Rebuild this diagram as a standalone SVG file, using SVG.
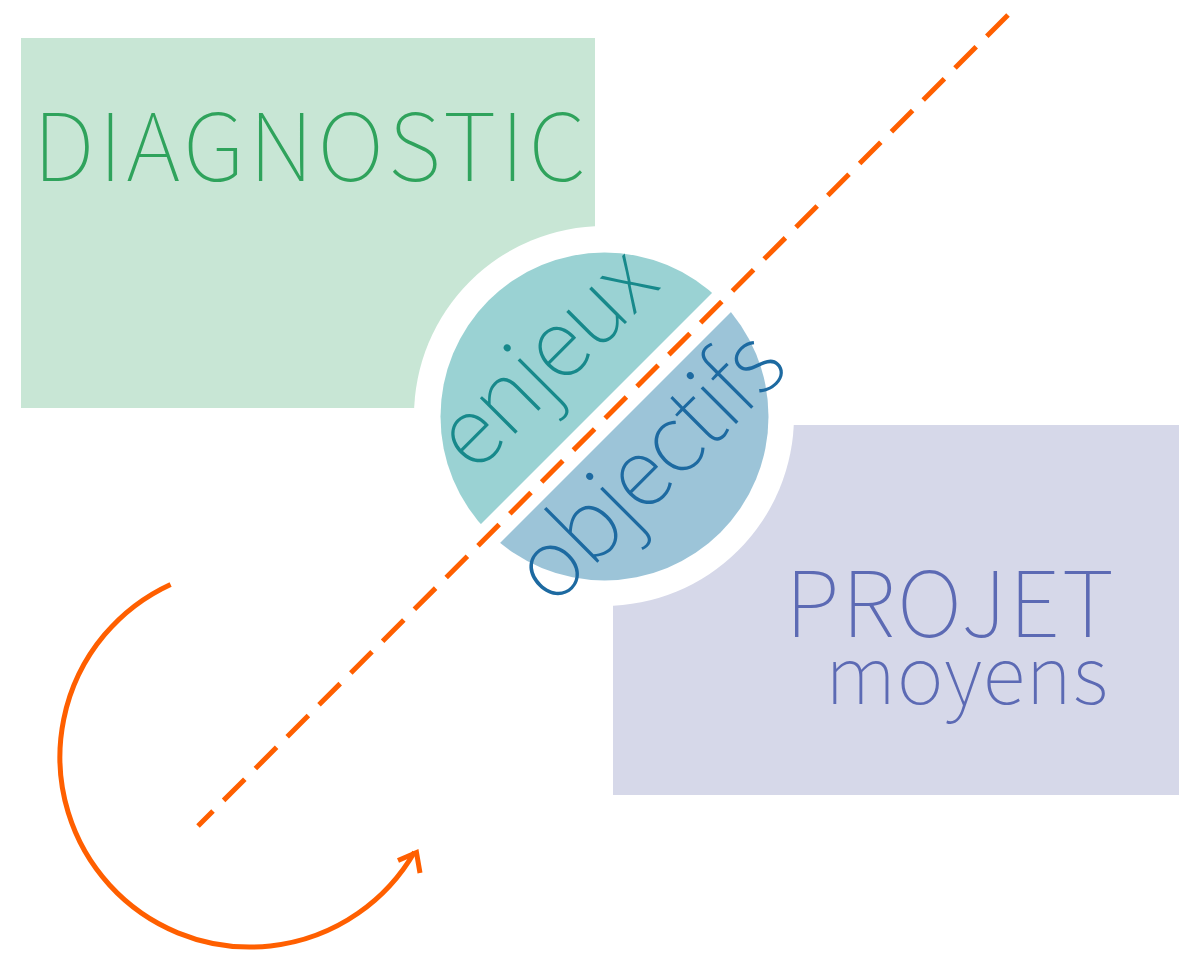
<svg xmlns="http://www.w3.org/2000/svg" width="1179" height="953" viewBox="0 0 1179 953">
<style>
.lbl{font-family:"Noto Sans CJK SC","Noto Sans",sans-serif;font-weight:100}
.orange{fill:none;stroke:#ff5f00;stroke-width:5}
</style>
<defs>
<clipPath id="clipA"><polygon points="0,0 1005,0 0,1005"/></clipPath>
<clipPath id="clipB"><polygon points="1043,0 1300,0 1300,1300 0,1300 0,1043"/></clipPath>
</defs>
<rect width="1179" height="953" fill="#ffffff"/>
<g id="diagnostic">
<rect x="21" y="38" width="574" height="370" fill="#c8e6d5"/>
<text class="lbl" x="33" y="181" font-size="93" fill="#2fa35c" textLength="553">DIAGNOSTIC</text>
</g>
<g id="projet">
<rect x="613" y="425" width="566" height="370" fill="#d6d8e9"/>
<text class="lbl" x="785" y="637" font-size="91" fill="#5c6ab4" textLength="329">PROJET</text>
<text class="lbl" x="825" y="704" font-size="80" fill="#5c6ab4" textLength="283">moyens</text>
</g>
<circle id="halo" cx="604" cy="416" r="190" fill="#ffffff"/>
<g id="enjeux">
<circle cx="604.5" cy="416.5" r="164" fill="#9ad2d3" clip-path="url(#clipA)"/>
<text class="lbl" x="568" y="381" font-size="95" fill="#17898b" text-anchor="middle" textLength="266" transform="rotate(-45 568 381)">enjeux</text>
</g>
<g id="objectifs">
<circle cx="604.5" cy="416.5" r="164" fill="#9cc4d8" clip-path="url(#clipB)"/>
<text class="lbl" x="671.5" y="488.5" font-size="95" fill="#1d6aa1" text-anchor="middle" textLength="337" transform="rotate(-45 671.5 488.5)">objectifs</text>
</g>
<g id="connectors">
<line class="orange" x1="1008" y1="15" x2="198" y2="826" stroke-dasharray="30 15"/>
<path class="orange" d="M 170.6 584.4 A 190 190 0 1 0 414.5 852"/>
<polyline class="orange" points="398,860.5 416.5,852.5 420,873"/>
</g>
</svg>
